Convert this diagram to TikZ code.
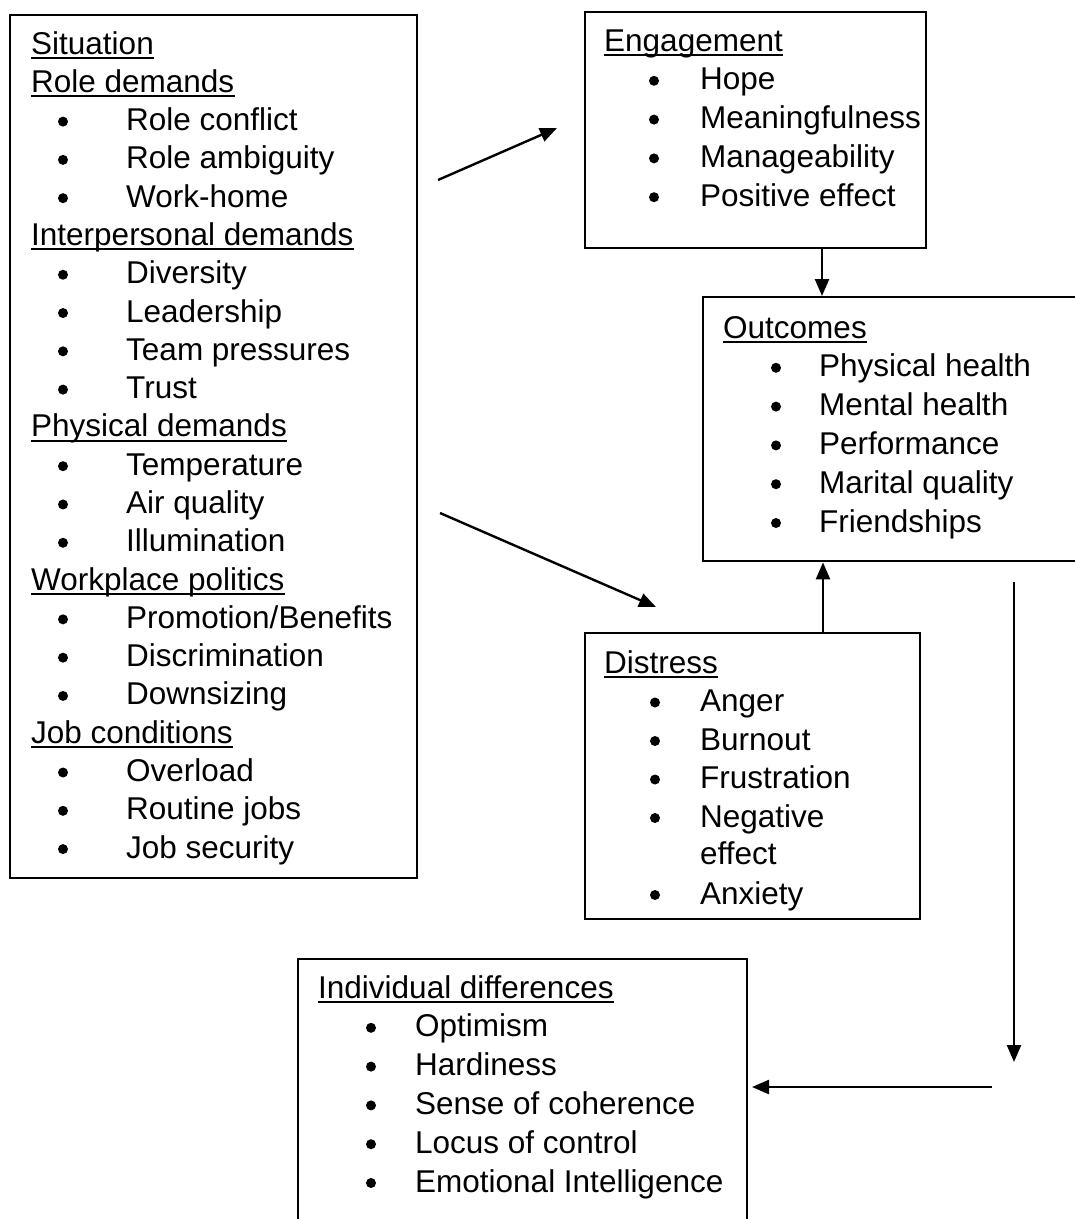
\documentclass[tikz,border=0pt]{standalone}
\usepackage{fontspec}
\setmainfont{Liberation Sans}
\usetikzlibrary{arrows.meta}
\begin{document}
\begin{tikzpicture}[x=1pt,y=-1pt,
  box/.style={draw,line width=2.4pt,inner sep=0pt,anchor=north west},
  txt/.style={anchor=base west,inner sep=0pt,font=\fontsize{31.5}{38}\selectfont},
  ul/.style={line width=2pt},
  bul/.style={circle,fill,inner sep=0pt,minimum size=10pt},
  arr/.style={line width=2.4pt,-{Triangle[length=17pt,width=14pt]}}]
\useasboundingbox (0,0) rectangle (1075,1219);

% boxes
\node[box,minimum width=407pt,minimum height=863pt] (sit) at (9,14) {};
\node[box,minimum width=341pt,minimum height=236pt] (eng) at (584,11) {};
\node[box,minimum width=420pt,minimum height=264pt] (out) at (702,296) {};
\node[box,minimum width=335pt,minimum height=286pt] (dis) at (584,632) {};
\node[box,minimum width=449pt,minimum height=300pt] (ind) at (297,958) {};

% Situation box headers
\foreach \k/\t in {0/Situation,1/Role demands,5/Interpersonal demands,10/Physical demands,14/Workplace politics,18/Job conditions}{
  \node[txt] (sh\k) at (31,{54+38.29*\k}) {\t};
  \draw[ul] ([yshift=-4pt]sh\k.base west) -- ([yshift=-4pt]sh\k.base east);
}
% Situation box items
\foreach \k/\t in {2/Role conflict,3/Role ambiguity,4/Work-home,6/Diversity,7/Leadership,8/Team pressures,9/Trust,11/Temperature,12/Air quality,13/Illumination,15/{Promotion/Benefits},16/Discrimination,17/Downsizing,19/Overload,20/Routine jobs,21/Job security}{
  \node[txt] (si\k) at (126,{54+38.29*\k}) {\t};
  \node[bul] (sb\k) at (63,{54+38.29*\k-9}) {};
}

% Engagement
\node[txt] (eh) at (604,51) {Engagement};
\draw[ul] ([yshift=-4pt]eh.base west) -- ([yshift=-4pt]eh.base east);
\foreach \k/\t in {1/Hope,2/Meaningfulness,3/Manageability,4/Positive effect}{
  \node[txt] (ei\k) at (700,{51+38.8*\k}) {\t};
  \node[bul] (eb\k) at (654,{51+38.8*\k-9}) {};
}

% Outcomes
\node[txt] (oh) at (723,338) {Outcomes};
\draw[ul] ([yshift=-4pt]oh.base west) -- ([yshift=-4pt]oh.base east);
\foreach \k/\t in {1/Physical health,2/Mental health,3/Performance,4/Marital quality,5/Friendships}{
  \node[txt] (oi\k) at (819,{338+38.8*\k}) {\t};
  \node[bul] (ob\k) at (776,{338+38.8*\k-9}) {};
}

% Distress
\node[txt] (dh) at (604,673) {Distress};
\draw[ul] ([yshift=-4pt]dh.base west) -- ([yshift=-4pt]dh.base east);
\foreach \k/\t in {1/Anger,2/Burnout,3/Frustration,4/Negative,6/Anxiety}{
  \node[txt] (di\k) at (700,{673+38.5*\k}) {\t};
  \node[bul] (db\k) at (655,{673+38.5*\k-9}) {};
}
\node[txt] (di5) at (700,{673+38.5*5-1}) {effect};

% Individual differences
\node[txt] (ih) at (318,998) {Individual differences};
\draw[ul] ([yshift=-4pt]ih.base west) -- ([yshift=-4pt]ih.base east);
\foreach \k/\t in {1/Optimism,2/Hardiness,3/Sense of coherence,4/Locus of control,5/Emotional Intelligence}{
  \node[txt] (ii\k) at (415,{998+38.8*\k}) {\t};
  \node[bul] (ib\k) at (371,{998+38.8*\k-9}) {};
}

% connectors
\coordinate (a1s) at (438,180);
\coordinate (a1e) at (557,128);
\draw[arr] (a1s) -- (a1e);
\coordinate (a2s) at (440,513);
\coordinate (a2e) at (656,607);
\draw[arr] (a2s) -- (a2e);
\draw[arr] (822,0 |- eng.south) -- (822,0 |- out.north);
\draw[arr] (823,0 |- dis.north) -- (823,0 |- out.south);
\coordinate (r1) at (1014,582);
\coordinate (r2) at (1014,1062);
\draw[arr] (r1) -- (r2);
\coordinate (h1) at (992,1087);
\coordinate (h2) at (752,1087);
\draw[arr] (h1) -- (h2);
\end{tikzpicture}
\end{document}
